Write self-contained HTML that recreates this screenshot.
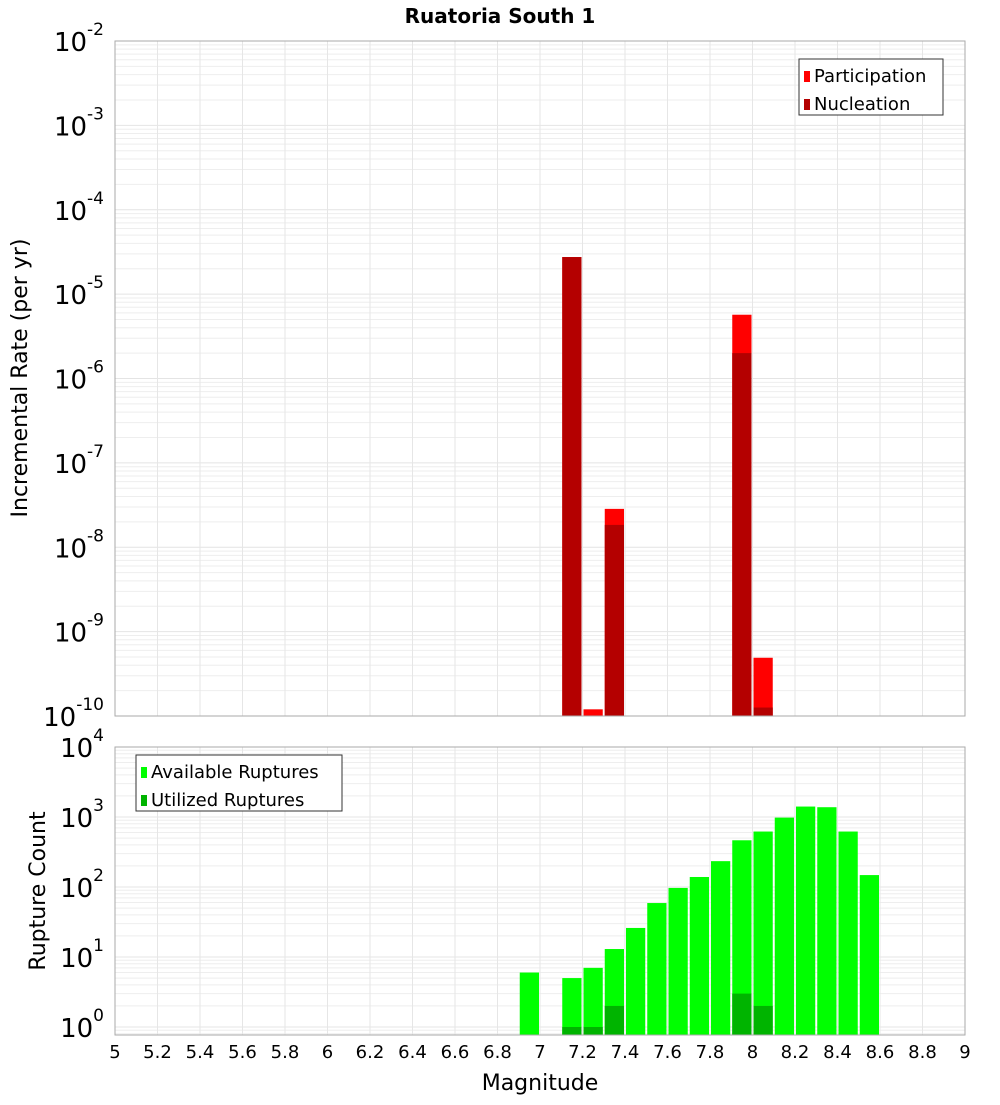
<!DOCTYPE html>
<html><head><meta charset="utf-8"><style>
body{margin:0;background:#fff;font-family:"Liberation Sans","DejaVu Sans",sans-serif;}
svg text{font-family:"DejaVu Sans","Liberation Sans",sans-serif;}
</style></head><body>
<svg id="chart" width="1000" height="1100" xmlns="http://www.w3.org/2000/svg">
<text x="500" y="23" text-anchor="middle" font-size="20" font-weight="bold">Ruatoria South 1</text>
<g id="topPlot"></g>
<g id="botPlot"></g>
<text x="27" y="378" text-anchor="middle" font-size="22" transform="rotate(-90 27 378)">Incremental Rate (per yr)</text>
<text x="45" y="891" text-anchor="middle" font-size="22" transform="rotate(-90 45 891)">Rupture Count</text>
<text x="540" y="1090" text-anchor="middle" font-size="22">Magnitude</text>
</svg>
<script>
const rateMags=[7.15,7.25,7.35,7.95,8.05];
const participation=[2.75e-5,1.2e-10,2.85e-8,5.7e-6,4.9e-10];
const nucleation=[2.75e-5,0,1.84e-8,2.0e-6,1.26e-10];
const countMags=[6.95,7.15,7.25,7.35,7.45,7.55,7.65,7.75,7.85,7.95,8.05,8.15,8.25,8.35,8.45,8.55];
const available=[6,5,7,13,26,59,97,139,234,465,620,980,1410,1380,620,148];
const utilizedMags=[7.15,7.25,7.35,7.95,8.05];
const utilized=[1,1,2,3,2];
const xTicks=[5,5.2,5.4,5.6,5.8,6,6.2,6.4,6.6,6.8,7,7.2,7.4,7.6,7.8,8,8.2,8.4,8.6,8.8,9];
const rateExps=[-2,-3,-4,-5,-6,-7,-8,-9,-10];
const countExps=[4,3,2,1,0];

const NS="http://www.w3.org/2000/svg";
const X0=115,X1=965;
function xs(m){return X0+(m-5)/4*(X1-X0);}
const T0=41,T1=716;
function yTop(v){return T0+(-2-Math.log10(v))/8*(T1-T0);}
const B0=747,B1=1035,BD=70;
function yBot(v){return B0+(4-Math.log10(v))*BD;}
function mk(p,tag,a){const e=document.createElementNS(NS,tag);for(const k in a)e.setAttribute(k,a[k]);p.appendChild(e);return e;}

function frame(g,y0,y1,exps,yf,lo,hi){
  for(let e=lo;e<hi;e++)for(let k=1;k<10;k++){const y=yf(k*Math.pow(10,e));if(y<y0||y>y1)continue;
    const l=mk(g,'line',{x1:X0,x2:X1,y1:y,y2:y,stroke:k==1?'#e4e4e4':'#eeeeee','stroke-width':1});
    
    }
  xTicks.forEach(t=>{const x=xs(t);
    const l=mk(g,'line',{x1:x,x2:x,y1:y0,y2:y1,stroke:'#e6e6e6'});
    
    });
  exps.forEach(e=>{const y=yf(Math.pow(10,e));
    const t=mk(g,'text',{x:104,y:y+10,'text-anchor':'end','font-size':26});
    
    
    t.textContent='10';
    const s=mk(t,'tspan',{dy:-16,'font-size':17});s.textContent=String(e);});
}
function border(g,y0,y1){const r=mk(g,'rect',{x:X0,y:y0,width:X1-X0,height:y1-y0,fill:'none',stroke:'#aaa'});
  
  }
function bar(g,m,v,yf,yb,fill,name){if(!(v>0))return;const x=xs(m-0.05)+1,w=xs(m+0.05)-xs(m-0.05)-2;
  let y=Math.max(yf(v),0);const r=mk(g,'rect',{x:x,y:y,width:w,height:Math.max(0,yb-y),fill:fill});
  
  }
function legend(g,x,y,w,items){const r=mk(g,'rect',{x:x,y:y,width:w,height:56,fill:'#fff',stroke:'#333'});
  
  
  items.forEach((it,i)=>{const yy=y+17+i*28;mk(g,'rect',{x:x+5,y:yy-5,width:6,height:11,fill:it[1]});
    const t=mk(g,'text',{x:x+15,y:yy+6,'font-size':18});
    
    
    t.textContent=it[0];});}

const topG=document.getElementById('topPlot');
frame(topG,T0,T1,rateExps,yTop,-10,-2);
rateMags.forEach((m,i)=>bar(topG,m,participation[i],yTop,T1,'#ff0000','participation-bar'));
rateMags.forEach((m,i)=>bar(topG,m,nucleation[i],yTop,T1,'#b40000','nucleation-bar'));
border(topG,T0,T1);
legend(topG,799,59,144,[['Participation','#ff0000'],['Nucleation','#b40000']]);

const botG=document.getElementById('botPlot');
frame(botG,B0,B1,countExps,yBot,-1,4);
countMags.forEach((m,i)=>bar(botG,m,available[i],yBot,B1,'#00ff00','available-bar'));
utilizedMags.forEach((m,i)=>bar(botG,m,utilized[i],yBot,B1,'#00b400','utilized-bar'));
border(botG,B0,B1);
legend(botG,136,755,206,[['Available Ruptures','#00ff00'],['Utilized Ruptures','#00b400']]);
xTicks.forEach(t=>{const e=mk(botG,'text',{x:xs(t),y:1058,'text-anchor':'middle','font-size':18});
  
  
  e.textContent=String(t);});
</script>
</body></html>
